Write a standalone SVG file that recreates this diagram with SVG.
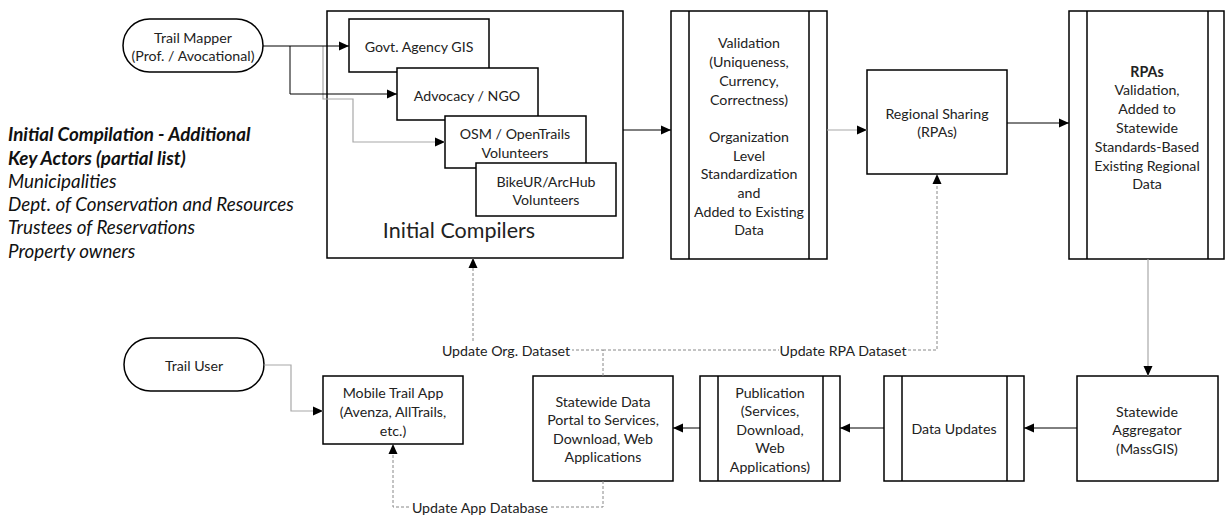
<svg xmlns="http://www.w3.org/2000/svg" width="1225" height="519" viewBox="0 0 1225 519">
<style>
.box{fill:#fff;stroke:#000;stroke-width:1.5}
.in{stroke:#000;stroke-width:1.5;fill:none}
.t{font-family:Lato,"Liberation Sans",sans-serif;font-size:14.2px;fill:#222;text-anchor:middle;dominant-baseline:central}
.big{font-size:21.5px}
.side{font-family:Lato,"Liberation Sans",sans-serif;font-size:18.8px;font-style:italic;fill:#111}
.blk{stroke:#000;stroke-width:1;fill:none}
.gry{stroke:#a8a8a8;stroke-width:1.2;fill:none}
.dsh{stroke:#888;stroke-width:1;fill:none;stroke-dasharray:3,2}
.lbl{fill:#fff}
</style>
<defs>
<marker id="ah" markerUnits="userSpaceOnUse" markerWidth="10" markerHeight="10" viewBox="0 0 10 10" refX="10" refY="5" orient="auto">
<path d="M0,0.5 L10,5 L0,9.5 Z" fill="#000"/>
</marker>
</defs>

<g id="side-text">
<text class="side" x="8" y="141" font-weight="bold">Initial Compilation - Additional</text>
<text class="side" x="8" y="165" font-weight="bold">Key Actors (partial list)</text>
<text class="side" x="8" y="188">Municipalities</text>
<text class="side" x="8" y="211">Dept. of Conservation and Resources</text>
<text class="side" x="8" y="234">Trustees of Reservations</text>
<text class="side" x="8" y="258">Property owners</text>
</g>

<g id="trail-mapper">
<rect class="box" x="123" y="19" width="140" height="53" rx="26.5"/>
<text class="t" x="193" y="37">Trail Mapper</text>
<text class="t" x="193" y="55">(Prof. / Avocational)</text>
</g>

<g id="initial-compilers">
<rect class="box" x="327" y="11" width="296" height="247"/>
<text class="t big" x="459" y="230">Initial Compilers</text>
</g>
<g id="govt">
<rect class="box" x="349" y="19" width="140" height="53"/>
<text class="t" x="419" y="46">Govt. Agency GIS</text>
</g>
<g id="advocacy">
<rect class="box" x="397" y="68" width="141" height="52"/>
<text class="t" x="467" y="95">Advocacy / NGO</text>
</g>
<g id="osm">
<rect class="box" x="445" y="116" width="141" height="52"/>
<text class="t" x="515" y="133">OSM / OpenTrails</text>
<text class="t" x="515" y="152">Volunteers</text>
</g>
<g id="bikeur">
<rect class="box" x="476" y="163" width="140" height="53"/>
<text class="t" x="546" y="181">BikeUR/ArcHub</text>
<text class="t" x="546" y="199">Volunteers</text>
</g>

<g id="validation">
<rect class="box" x="671" y="11" width="156" height="248"/>
<line class="in" x1="689" y1="11" x2="689" y2="259"/>
<line class="in" x1="809" y1="11" x2="809" y2="259"/>
<text class="t" x="749" y="42">Validation</text>
<text class="t" x="749" y="61">(Uniqueness,</text>
<text class="t" x="749" y="80">Currency,</text>
<text class="t" x="749" y="99">Correctness)</text>
<text class="t" x="749" y="136">Organization</text>
<text class="t" x="749" y="155">Level</text>
<text class="t" x="749" y="173">Standardization</text>
<text class="t" x="749" y="192">and</text>
<text class="t" x="749" y="211">Added to Existing</text>
<text class="t" x="749" y="229">Data</text>
</g>

<g id="regional-sharing">
<rect class="box" x="867" y="70" width="140" height="104"/>
<text class="t" x="937" y="113">Regional Sharing</text>
<text class="t" x="937" y="131">(RPAs)</text>
</g>

<g id="rpas">
<rect class="box" x="1069" y="11" width="155" height="248"/>
<line class="in" x1="1087" y1="11" x2="1087" y2="259"/>
<line class="in" x1="1208" y1="11" x2="1208" y2="259"/>
<text class="t" x="1147" y="71" font-weight="bold">RPAs</text>
<text class="t" x="1147" y="89">Validation,</text>
<text class="t" x="1147" y="108">Added to</text>
<text class="t" x="1147" y="127">Statewide</text>
<text class="t" x="1147" y="146">Standards-Based</text>
<text class="t" x="1147" y="165">Existing Regional</text>
<text class="t" x="1147" y="183">Data</text>
</g>

<g id="aggregator">
<rect class="box" x="1077" y="376" width="141" height="105"/>
<text class="t" x="1147" y="411">Statewide</text>
<text class="t" x="1147" y="429">Aggregator</text>
<text class="t" x="1147" y="448">(MassGIS)</text>
</g>

<g id="data-updates">
<rect class="box" x="884" y="376" width="140" height="105"/>
<line class="in" x1="902" y1="376" x2="902" y2="481"/>
<line class="in" x1="1007" y1="376" x2="1007" y2="481"/>
<text class="t" x="954" y="428">Data Updates</text>
</g>

<g id="publication">
<rect class="box" x="700" y="376" width="140" height="105"/>
<line class="in" x1="718" y1="376" x2="718" y2="481"/>
<line class="in" x1="823" y1="376" x2="823" y2="481"/>
<text class="t" x="770" y="392">Publication</text>
<text class="t" x="770" y="410">(Services,</text>
<text class="t" x="770" y="429">Download,</text>
<text class="t" x="770" y="447">Web</text>
<text class="t" x="770" y="466">Applications)</text>
</g>

<g id="portal">
<rect class="box" x="533" y="376" width="140" height="105"/>
<text class="t" x="603" y="401">Statewide Data</text>
<text class="t" x="603" y="419">Portal to Services,</text>
<text class="t" x="603" y="438">Download, Web</text>
<text class="t" x="603" y="456">Applications</text>
</g>

<g id="mobile-app">
<rect class="box" x="323" y="376" width="140" height="68"/>
<text class="t" x="393" y="392">Mobile Trail App</text>
<text class="t" x="393" y="411">(Avenza, AllTrails,</text>
<text class="t" x="393" y="430">etc.)</text>
</g>

<g id="trail-user">
<rect class="box" x="124" y="338" width="140" height="53" rx="26.5"/>
<text class="t" x="194" y="365">Trail User</text>
</g>

<g id="connectors">
<path class="gry" d="M323,46 V99 H353 V142 H445" marker-end="url(#ah)"/>
<path class="blk" d="M263,46 H349" marker-end="url(#ah)"/>
<path class="blk" d="M290,46 V94 H397" marker-end="url(#ah)"/>
<path class="blk" d="M623,130 H671" marker-end="url(#ah)"/>
<path class="gry" d="M827,130 H867" marker-end="url(#ah)"/>
<path class="blk" d="M1007,123 H1069" marker-end="url(#ah)"/>
<path class="gry" d="M1148,259 V376" marker-end="url(#ah)"/>
<path class="blk" d="M1077,428 H1024" marker-end="url(#ah)"/>
<path class="blk" d="M884,428 H840" marker-end="url(#ah)"/>
<path class="blk" d="M700,428 H673" marker-end="url(#ah)"/>
<path class="gry" d="M264,365 H291 V411 H323" marker-end="url(#ah)"/>
<path class="dsh" d="M603,376 V350 H473 V258" marker-end="url(#ah)"/>
<path class="dsh" d="M603,350 H937 V174" marker-end="url(#ah)"/>
<path class="dsh" d="M603,481 V507 H393 V444" marker-end="url(#ah)"/>
<rect class="lbl" x="441" y="342" width="131" height="16"/>
<text class="t" x="506" y="350">Update Org. Dataset</text>
<rect class="lbl" x="779" y="342" width="129" height="16"/>
<text class="t" x="843" y="350">Update RPA Dataset</text>
<rect class="lbl" x="410" y="499" width="139" height="16"/>
<text class="t" x="480" y="507">Update App Database</text>
</g>
</svg>
